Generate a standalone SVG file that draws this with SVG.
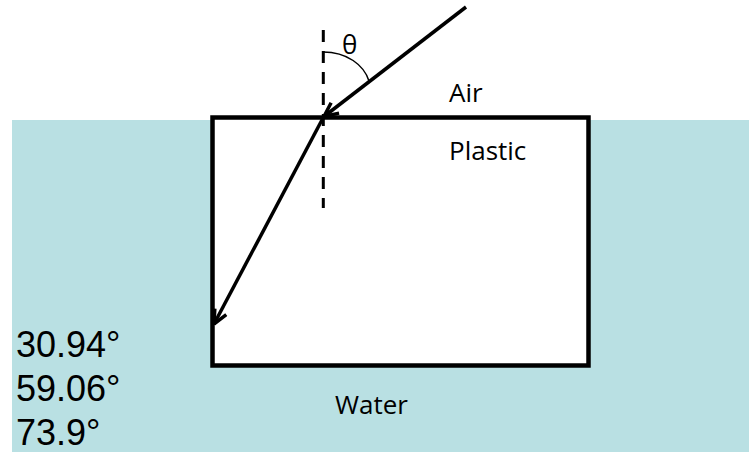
<svg xmlns="http://www.w3.org/2000/svg" width="749" height="452" viewBox="0 0 749 452">
  <defs>
    <style>
      .lbl { font-family: "Open Sans", "Noto Sans", sans-serif; font-size: 26px; fill: #000; }
      .num { font-family: "Liberation Sans", Arial, sans-serif; font-size: 36px; fill: #000; }
      .ray { stroke: #000; stroke-width: 3.5; fill: none; }
    </style>
    <marker id="arrow" viewBox="0 0 16 16" refX="15" refY="8" markerWidth="16" markerHeight="16" markerUnits="userSpaceOnUse" orient="auto">
      <path d="M1,1.5 L15,8 L1,14.5" fill="none" stroke="#000" stroke-width="3.5"/>
    </marker>
  </defs>
  <rect x="0" y="0" width="749" height="452" fill="#ffffff"/>
  <g id="water">
    <rect x="12" y="120" width="737" height="332" fill="#b9e0e3"/>
    <text class="lbl" x="335" y="414">Water</text>
  </g>
  <g id="plastic">
    <rect x="212.5" y="117.5" width="376" height="248" fill="#ffffff" stroke="#000" stroke-width="4.5"/>
    <text class="lbl" x="449" y="160">Plastic</text>
  </g>
  <g id="air">
    <text class="lbl" x="449" y="102">Air</text>
  </g>
  <g id="normal">
    <line x1="323.3" y1="30" x2="323.3" y2="208" stroke="#000" stroke-width="3" stroke-dasharray="12 9"/>
  </g>
  <g id="angle">
    <path d="M323,52 C347,52 364,65 369,81" fill="none" stroke="#000" stroke-width="1.5"/>
    <text class="lbl" x="342" y="54">θ</text>
  </g>
  <g id="connectors">
    <line class="ray" x1="466" y1="7" x2="324" y2="116.5" marker-end="url(#arrow)"/>
    <line class="ray" x1="323" y1="118" x2="214" y2="324" marker-end="url(#arrow)"/>
  </g>
  <g id="answers">
    <text class="num" x="16" y="357">30.94°</text>
    <text class="num" x="16" y="401">59.06°</text>
    <text class="num" x="16" y="445">73.9°</text>
  </g>
</svg>
